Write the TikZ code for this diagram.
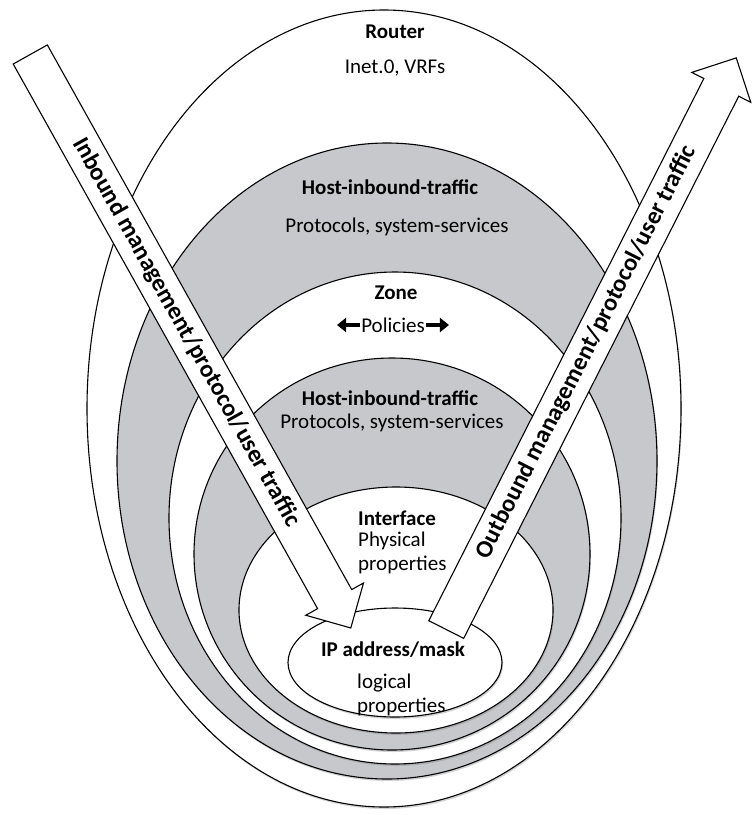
\documentclass[tikz,border=0pt]{standalone}
\usepackage{fontspec}
\setmainfont{Carlito}
\usetikzlibrary{shapes.arrows,shadows,arrows.meta}
\definecolor{ringgray}{RGB}{199,200,203}

\begin{document}
\begin{tikzpicture}
[x=1pt,y=-1pt,
whitering/.style={draw=black,line width=1.1pt,fill=white,drop shadow={opacity=0.35,shadow xshift=1pt,shadow yshift=-2pt}},
grayring/.style={whitering,fill=ringgray},
title/.style={inner sep=1pt,font=\fontsize{21}{25}\selectfont\bfseries},
sub/.style={inner sep=1pt,font=\fontsize{21}{25}\selectfont},
flowarrow/.style={single arrow,draw=black,line width=1.1pt,fill=white,single arrow head extend=13.5pt,single arrow tip angle=90,text height=17pt,text depth=5pt,inner ysep=8pt,inner xsep=0pt,anchor=tail,font=\fontsize{24.5}{28}\selectfont\bfseries},
polarrow/.style={-{Triangle[length=9pt,width=14pt]},line width=3.6pt}]

\useasboundingbox (0,0) rectangle (753,815);

% Router
\draw[whitering] (384,408.5) ellipse [x radius=297pt, y radius=398.5pt];
\node[title] (router) at (395,32) {Router};
\node[sub] (inet) at (395,68) {Inet.0, VRFs};

% outer host-inbound-traffic
\draw[grayring] (387,461) ellipse [x radius=270pt, y radius=318pt];
\node[title] (hostA) at (390,187) {Host-inbound-traffic};
\node[sub] (protoA) at (397,227) {Protocols, system-services};

% zone
\draw[whitering] (395,518) ellipse [x radius=226pt, y radius=246pt];
\node[title] (zone) at (396,293) {Zone};
\node[sub] (pol) at (393,325) {Policies};
\draw[polarrow] (pol.west) -- ++(-23,0);
\draw[polarrow] (pol.east) -- ++(23,0);

% inner host-inbound-traffic
\draw[grayring] (392,554) ellipse [x radius=198pt, y radius=196pt];
\node[title] (hostB) at (390,398) {Host-inbound-traffic};
\node[sub] (protoB) at (392,423) {Protocols, system-services};

% interface
\draw[whitering] (396,610) ellipse [x radius=157pt, y radius=123pt];
\node[title,anchor=west] (iface) at (357,518) {Interface};
\node[sub,anchor=west] (phys) at (357,541) {Physical};
\node[sub,anchor=west] (physprop) at (357,565) {properties};

% ip address/mask
\draw[whitering] (395,662.5) ellipse [x radius=107pt, y radius=54.5pt];
\node[title] (ip) at (393,650) {IP address/mask};
\node[sub,anchor=west] (logic) at (356,683) {logical};
\node[sub,anchor=west] (logprop) at (356,707) {properties};

% traffic in and out
\node[flowarrow,rotate=-60.8,minimum height=657pt] (inArrow) at (30,54) {Inbound management/protocol/user traffic};
\node[flowarrow,rotate=63.1,minimum height=641pt] (outArrow) at (446,630) {Outbound management/protocol/user traffic};

\end{tikzpicture}
\end{document}
